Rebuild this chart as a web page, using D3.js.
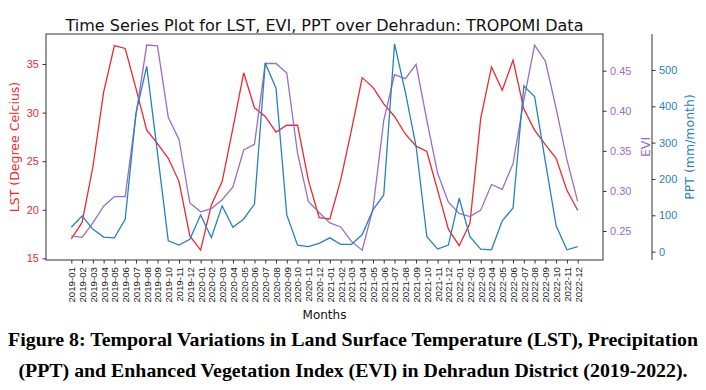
<!DOCTYPE html>
<html>
<head>
<meta charset="utf-8">
<script src="https://cdn.jsdelivr.net/npm/d3@7"></script>
<style>
  body { margin: 0; background: #fff; }
  svg { display: block; font-family: "DejaVu Sans", sans-serif; }
  .axis path, .axis line { stroke: #333; }
</style>
</head>
<body>
<div id="chart"></div>
<script>
const months = [];
for (const y of [2019, 2020, 2021, 2022]) {
    for (let m = 1; m <= 12; m++) months.push(y + "-" + String(m).padStart(2, "0"));
}

const lst = [17.0, 18.7, 24.4, 32.1, 36.9, 36.6, 32.5, 28.2, 26.8, 25.3, 22.9, 17.3,
    15.85, 20.5, 22.9, 28.4, 34.1, 30.5, 29.6, 28.0, 28.7, 28.7, 23.05, 19.2,
    19.05, 23.05, 28.2, 33.6, 32.6, 30.9, 29.6, 27.8, 26.55, 26.0, 22.0, 18.0,
    16.3, 18.6, 29.4, 34.7, 32.3, 35.4, 30.4, 28.2, 26.7, 25.3, 22.0, 19.95];

const evi = [0.244, 0.242, 0.260, 0.281, 0.293, 0.293, 0.395, 0.482, 0.481, 0.392, 0.364, 0.285,
    0.274, 0.278, 0.289, 0.305, 0.351, 0.358, 0.459, 0.459, 0.447, 0.347, 0.287, 0.273,
    0.260, 0.255, 0.237, 0.226, 0.278, 0.388, 0.445, 0.440, 0.458, 0.388, 0.322, 0.286,
    0.272, 0.268, 0.276, 0.308, 0.302, 0.334, 0.413, 0.482, 0.462, 0.403, 0.339, 0.287];

const ppt = [67, 98, 62, 40, 38, 89, 381, 510, 271, 30, 18, 34,
    101, 39, 126, 67, 90, 131, 519, 450, 101, 18, 14, 23,
    38, 20, 20, 47, 115, 156, 572, 440, 290, 41, 7, 18,
    147, 41, 7, 5, 85, 120, 456, 427, 248, 71, 5, 14];

const lstTicks = [15, 20, 25, 30, 35];
const eviTicks = [0.25, 0.30, 0.35, 0.40, 0.45];
const pptTicks = [0, 100, 200, 300, 400, 500];

const red = "#ec2a2e", purple = "#9a6dc6", blue = "#2a80bf";

const W = 706, H = 390;
const plot = { left: 46, right: 603, top: 34, bottom: 260 };
const pptAxisX = 652;

const svg = d3.select("#chart").append("svg")
    .attr("width", W)
    .attr("height", H);

const x = d3.scalePoint().domain(months).range([plot.left, plot.right]).padding(2.35);
const yL = d3.scaleLinear().domain([14.83, 38.09]).range([plot.bottom, plot.top]);
const yE = d3.scaleLinear().domain([0.2138, 0.4958]).range([plot.bottom, plot.top]);
const yP = d3.scaleLinear().domain([-23, 599]).range([plot.bottom, plot.top]);

// title
svg.append("text")
    .attr("x", (plot.left + plot.right) / 2)
    .attr("y", 31)
    .attr("text-anchor", "middle")
    .style("font-size", "16px")
    .attr("fill", "#111")
    .text("Time Series Plot for LST, EVI, PPT over Dehradun: TROPOMI Data");

// frame
svg.append("rect")
    .attr("x", plot.left).attr("y", plot.top)
    .attr("width", plot.right - plot.left).attr("height", plot.bottom - plot.top)
    .attr("fill", "none").attr("stroke", "#333").attr("stroke-width", 1);

// x axis
const xAxis = svg.append("g")
    .attr("class", "axis")
    .attr("transform", `translate(0, ${plot.bottom})`)
    .call(d3.axisBottom(x).tickSizeOuter(0).tickSize(3.5).tickPadding(3));
xAxis.select(".domain").remove();
xAxis.selectAll("text")
    .attr("transform", "rotate(-90)")
    .attr("text-anchor", "end")
    .attr("x", -7).attr("y", 0).attr("dy", "0.35em")
    .style("font-size", "9.7px")
    .attr("fill", "#222");

svg.append("text")
    .attr("x", (plot.left + plot.right) / 2)
    .attr("y", 319)
    .attr("text-anchor", "middle")
    .style("font-size", "12px")
    .attr("fill", "#111")
    .text("Months");

// left axis (LST)
const lAxis = svg.append("g")
    .attr("class", "axis")
    .attr("transform", `translate(${plot.left}, 0)`)
    .call(d3.axisLeft(yL).tickValues(lstTicks).tickSize(3.5).tickPadding(3.5));
lAxis.select(".domain").remove();
lAxis.selectAll("text").style("font-size", "11px").attr("fill", red);

svg.append("text")
    .attr("transform", `translate(19, ${(plot.top + plot.bottom) / 2}) rotate(-90)`)
    .attr("text-anchor", "middle")
    .style("font-size", "12.5px")
    .attr("fill", red)
    .text("LST (Degree Celcius)");

// right axis (EVI)
const eAxis = svg.append("g")
    .attr("class", "axis")
    .attr("transform", `translate(${plot.right}, 0)`)
    .call(d3.axisRight(yE).tickValues(eviTicks).tickFormat(d3.format(".2f")).tickSize(3.5).tickPadding(3.5));
eAxis.select(".domain").remove();
eAxis.selectAll("text").style("font-size", "11px").attr("fill", purple);

svg.append("text")
    .attr("transform", `translate(650, ${(plot.top + plot.bottom) / 2}) rotate(-90)`)
    .attr("text-anchor", "middle")
    .style("font-size", "12.5px")
    .attr("fill", purple)
    .text("EVI");

// offset axis (PPT)
const pAxis = svg.append("g")
    .attr("class", "axis")
    .attr("transform", `translate(${pptAxisX}, 0)`)
    .call(d3.axisRight(yP).tickValues(pptTicks).tickSize(3.5).tickPadding(3.5).tickSizeOuter(0));
pAxis.select(".domain").attr("d", `M0,${plot.top}V${plot.bottom}`);
pAxis.selectAll("text").style("font-size", "11px").attr("fill", blue);

svg.append("text")
    .attr("transform", `translate(694, ${(plot.top + plot.bottom) / 2}) rotate(-90)`)
    .attr("text-anchor", "middle")
    .style("font-size", "12.5px")
    .attr("fill", blue)
    .text("PPT (mm/month)");

// lines
const series = [
    { values: lst, y: yL, color: red },
    { values: evi, y: yE, color: purple },
    { values: ppt, y: yP, color: blue }
];

series.forEach(s => {
    const line = d3.line()
        .x((d, i) => x(months[i]))
        .y(d => s.y(d));
    svg.append("path")
        .datum(s.values)
        .attr("fill", "none")
        .attr("stroke", s.color)
        .attr("stroke-width", 1.3)
        .attr("d", line);
});

// caption
const caption = [
    { text: "Figure 8: Temporal Variations in Land Surface Temperature (LST), Precipitation", y: 346, len: 690 },
    { text: "(PPT) and Enhanced Vegetation Index (EVI) in Dehradun District (2019-2022).", y: 377, len: 669 }
];
svg.selectAll(".caption")
    .data(caption)
    .enter()
    .append("text")
    .attr("class", "caption")
    .attr("x", 353)
    .attr("y", d => d.y)
    .attr("text-anchor", "middle")
    .attr("textLength", d => d.len)
    .attr("lengthAdjust", "spacingAndGlyphs")
    .style("font-family", "'Liberation Serif', 'Times New Roman', serif")
    .style("font-weight", "bold")
    .style("font-size", "19.5px")
    .text(d => d.text);
</script>
</body>
</html>
